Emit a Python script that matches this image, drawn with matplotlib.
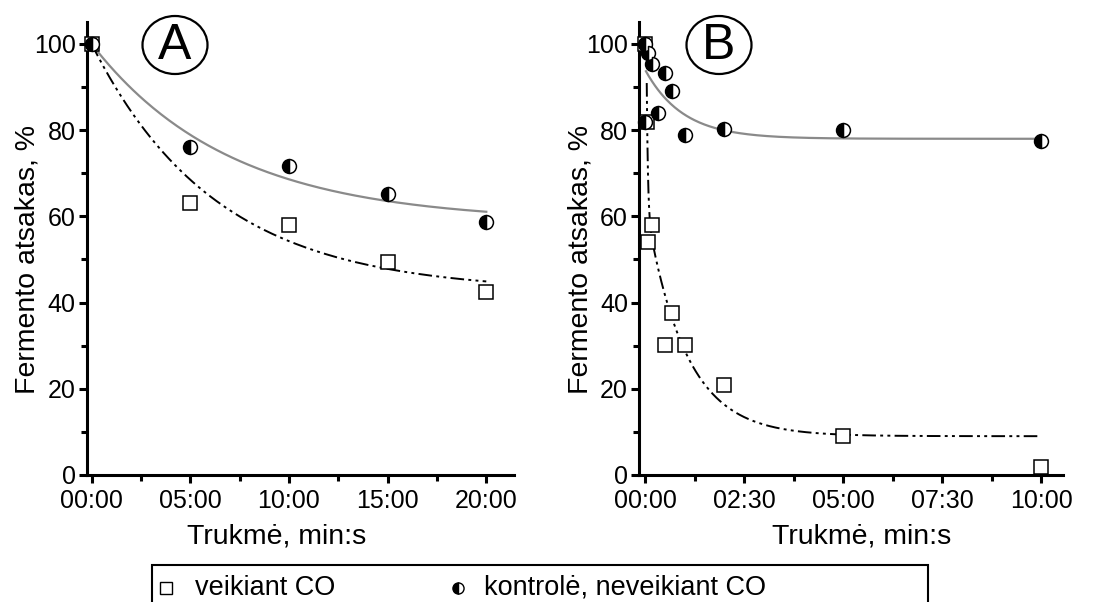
import numpy as np
import matplotlib.pyplot as plt
from matplotlib.ticker import FuncFormatter, MultipleLocator
from matplotlib.patches import Ellipse, Rectangle
from matplotlib.lines import Line2D

plt.rcParams['font.family'] = ['Liberation Sans', 'DejaVu Sans']

W, H = 1104, 602

# A: sampling times in minutes
time_a = [0, 5, 10, 15, 20]
co_a = [100, 63.2, 57.9, 49.5, 42.5]
ctrl_a = [100, 76.1, 71.7, 65.3, 58.7]

# B: sampling times in minutes
time_b_co = [0, 0.05, 0.083, 0.167, 0.5, 0.667, 1.0, 2.0, 5.0, 10.0]
co_b = [100, 82.0, 54.1, 58.0, 30.2, 37.5, 30.2, 20.9, 9.0, 1.9]
time_b_ctrl = [0, 0, 0.083, 0.167, 0.333, 0.5, 0.667, 1.0, 2.0, 5.0, 10.0]
ctrl_b = [100, 81.8, 97.8, 95.3, 83.9, 93.2, 89.1, 78.8, 80.3, 80.0, 77.6]

legend_labels = ['veikiant CO', 'kontrolė, neveikiant CO']

# exponential decay fits: y0, amplitude, tau (min)
fit_a_ctrl = (58.7, 41.3, 7.0)
fit_a_co = (42.5, 57.5, 6.3)
fit_b_ctrl = (78.0, 16.0, 0.95)
# two-component fit for B with CO: y0, A1, t1, A2, t2
fit_b_co = (9.0, 114.0, 0.03, 54.0, 1.0)

def expdec(x, y0, a, t):
    return y0 + a * np.exp(-x / t)

def expdec2(x, y0, a1, t1, a2, t2):
    return y0 + a1 * np.exp(-x / t1) + a2 * np.exp(-x / t2)

def mmss(v, pos):
    total = int(round(v * 60))
    return "%02d:%02d" % (total // 60, total % 60)

dashdotdot = (0, (7, 2.2, 1.5, 2.2, 1.5, 2.2))
sq = dict(marker='s', ls='none', ms=10.5, mfc='white', mec='black', mew=1.1, clip_on=False, zorder=4)
half = dict(marker='o', ls='none', ms=10, fillstyle='left', mfc='black', mfcalt='white',
            mec='black', mew=1.1, clip_on=False, zorder=5)

fig = plt.figure(figsize=(W / 100, H / 100), dpi=100)
ax_a = fig.add_axes([0.0785, 0.211, 0.387, 0.7525])
ax_b = fig.add_axes([0.579, 0.211, 0.3838, 0.7525])

# panel A
xa = np.linspace(0, 20, 200)
ax_a.plot(xa, expdec(xa, *fit_a_ctrl), color='#8a8a8a', lw=1.6, zorder=2)
ax_a.plot(xa, expdec(xa, *fit_a_co), color='black', lw=1.4, ls=dashdotdot, zorder=2)
ax_a.plot(time_a, co_a, **sq)
ax_a.plot(time_a, ctrl_a, **half)
ax_a.set_xlim(-0.25, 21.4)
ax_a.xaxis.set_major_locator(MultipleLocator(5))
ax_a.xaxis.set_minor_locator(MultipleLocator(2.5))

# panel B
xb1 = np.linspace(0.02, 10, 400)
xb2 = np.linspace(0.04, 10, 2000)
ax_b.plot(xb1, expdec(xb1, *fit_b_ctrl), color='#8a8a8a', lw=1.6, zorder=2)
ax_b.plot(xb2, expdec2(xb2, *fit_b_co), color='black', lw=1.4, ls=dashdotdot, zorder=2)
ax_b.plot(time_b_co, co_b, **sq)
ax_b.plot(time_b_ctrl, ctrl_b, **half)
ax_b.set_xlim(-0.15, 10.55)
ax_b.xaxis.set_major_locator(MultipleLocator(2.5))
ax_b.xaxis.set_minor_locator(MultipleLocator(1.25))

for ax, letter, cx, xlab_x in [(ax_a, 'A', 175, 0.445), (ax_b, 'B', 719, 0.525)]:
    ax.set_ylim(0, 105.1)
    ax.yaxis.set_major_locator(MultipleLocator(20))
    ax.yaxis.set_minor_locator(MultipleLocator(10))
    ax.xaxis.set_major_formatter(FuncFormatter(mmss))
    for s in ['top', 'right']:
        ax.spines[s].set_visible(False)
    for s in ['left', 'bottom']:
        ax.spines[s].set_linewidth(2.2)
    ax.tick_params(which='major', direction='out', length=6, width=2.2, labelsize=18)
    ax.tick_params(axis='x', which='major', pad=4)
    ax.tick_params(axis='y', which='major', pad=2)
    ax.tick_params(which='minor', direction='out', length=4, width=2.2)
    ax.set_xlabel('Trukmė, min:s', fontsize=20.5)
    ax.set_ylabel('Fermento atsakas, %', fontsize=20.5)
    ax.xaxis.set_label_coords(xlab_x, -0.108)
    ax.yaxis.set_label_coords(-0.107, 0.475)
    # circled panel letter
    fx, fy = cx / W, 1 - 45 / H
    fig.patches.append(Ellipse((fx, fy), 65 / W, 58 / H, transform=fig.transFigure,
                               fill=False, ec='black', lw=1.6))
    fig.text(fx, fy - 0.002, letter, fontsize=36, ha='center', va='center')

# legend box along the bottom edge, running past the figure border
fig.add_artist(Rectangle((152 / W, -0.05), 776 / W, 0.05 + 37 / H, transform=fig.transFigure,
                         fill=False, ec='black', lw=1.5, clip_on=False))
ly = 1 - 588 / H
leg_sq = dict(sq, ms=8, mew=1.0)
leg_half = dict(half, ms=8, mew=1.0)
fig.add_artist(Line2D([166 / W], [ly], transform=fig.transFigure, **leg_sq))
fig.add_artist(Line2D([458 / W], [ly], transform=fig.transFigure, **leg_half))
fig.text(195 / W, ly, legend_labels[0], fontsize=19.5, va='center', ha='left')
fig.text(484 / W, ly, legend_labels[1], fontsize=19.5, va='center', ha='left')

fig.savefig('out.png', dpi=100)
